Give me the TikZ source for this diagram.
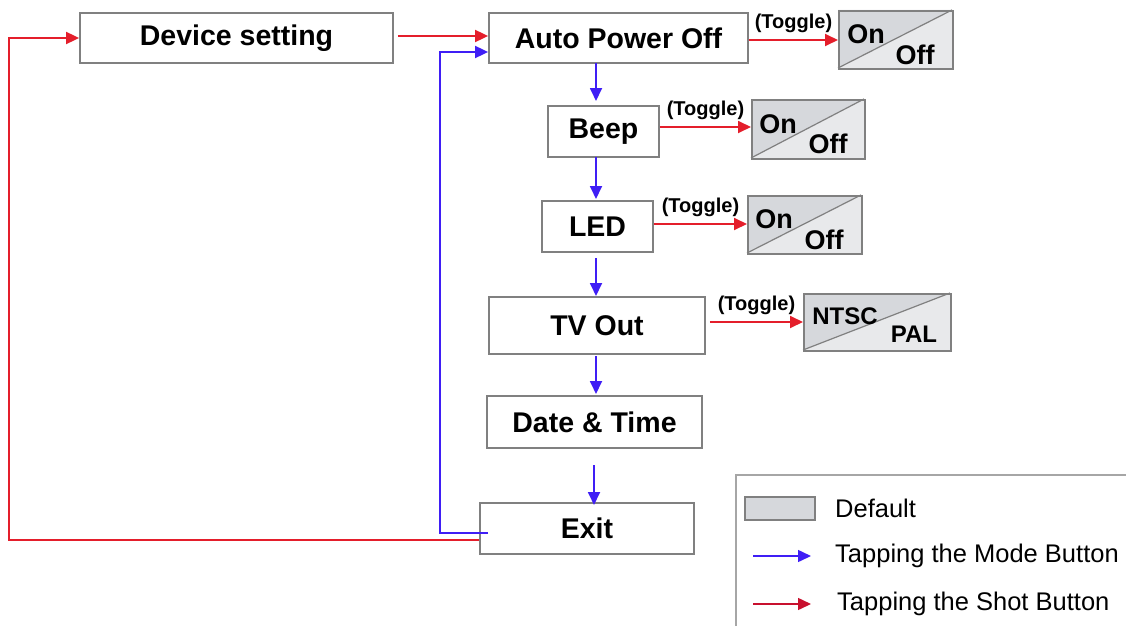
\documentclass[tikz,border=0pt]{standalone}
\usepackage{fontspec}
\setmainfont{Liberation Sans}
\usetikzlibrary{arrows.meta}
\definecolor{boxgray}{HTML}{808080}
\definecolor{defgray}{HTML}{D6D8DC}
\definecolor{lightgray2}{HTML}{E8E9EB}
\definecolor{arrred}{HTML}{E41E2B}
\definecolor{arrblue}{HTML}{3F1EF5}
\definecolor{legred}{HTML}{C8102E}
\tikzset{
  menubox/.style={draw=boxgray, line width=1.8pt, fill=white, inner sep=0pt, font=\fontsize{28.5}{32}\selectfont\bfseries},
  togbox/.style={draw=boxgray, line width=1.8pt, inner sep=0pt},
  redarr/.style={draw=arrred, line width=1.8pt, -{Triangle[length=13pt,width=12pt]}},
  bluearr/.style={draw=arrblue, line width=1.8pt, -{Triangle[length=13pt,width=12pt]}},
  toglabel/.style={font=\fontsize{20}{23}\selectfont\bfseries, inner sep=0pt},
  togtext/.style={font=\fontsize{27}{30}\selectfont\bfseries, inner sep=0pt},
  legtext/.style={font=\fontsize{25.5}{29}\selectfont, anchor=west, inner sep=0pt}
}
\newcommand{\togglebox}[5]{% name, x1, y1, x2, y2
  \fill[defgray] (#2,#3) -- (#4,#3) -- (#2,#5) -- cycle;
  \fill[lightgray2] (#4,#3) -- (#4,#5) -- (#2,#5) -- cycle;
  \draw[boxgray, line width=1.2pt] (#2,#5) -- (#4,#3);
  \node[togbox, minimum width={#4-#2}, minimum height={#5-#3}, anchor=north west] (#1) at (#2,#3) {};
}
\begin{document}
\begin{tikzpicture}[x=1pt,y=-1pt]
\useasboundingbox (0,0) rectangle (1126,626);

% main boxes
\node[menubox, minimum width=313, minimum height=50] (dev) at (236.5,38) {Device setting};
\node[menubox, minimum width=259, minimum height=50] (apo) at (618.5,38) {Auto Power Off};
\node[menubox, minimum width=111, minimum height=51] (beep) at (603.5,131.5) {Beep};
\node[menubox, minimum width=111, minimum height=51] (led) at (597.5,226.5) {LED};
\node[menubox, minimum width=216, minimum height=57] (tv) at (597,325.5) {TV Out};
\node[menubox, minimum width=215, minimum height=52] (dt) at (594.5,422) {Date \& Time};
\node[menubox, minimum width=214, minimum height=51] (exit) at (587,528.5) {Exit};

% toggle boxes
\togglebox{t1}{838}{10}{952}{68}
\node[togtext] (t1on) at (866,34) {On};
\node[togtext] (t1off) at (915,55) {Off};
\togglebox{t2}{751}{99}{864}{158}
\node[togtext] (t2on) at (778,124) {On};
\node[togtext] (t2off) at (828,144) {Off};
\togglebox{t3}{747}{195}{861}{253}
\node[togtext] (t3on) at (774,219) {On};
\node[togtext] (t3off) at (824,240) {Off};
\togglebox{t4}{803}{293}{950}{350}
\node[togtext, font=\fontsize{24}{28}\selectfont\bfseries] (t4a) at (845,316) {NTSC};
\node[togtext, font=\fontsize{24}{28}\selectfont\bfseries] (t4b) at (914,334) {PAL};

% red arrows
\draw[redarr] (dev.east |- 0,36) ++(4,0) -- (apo.west |- 0,36);
\draw[redarr] (apo.east |- 0,40) -- (t1.west |- 0,40) node[toglabel, midway, above=6pt] (lab1) {(Toggle)};
\draw[redarr] (beep.east |- 0,127) -- (t2.west |- 0,127) node[toglabel, midway, above=6pt] (lab2) {(Toggle)};
\draw[redarr] (led.east |- 0,224) -- (t3.west |- 0,224) node[toglabel, midway, above=6pt] (lab3) {(Toggle)};
\draw[redarr] ([xshift=4pt]tv.east |- 0,322) -- (t4.west |- 0,322) node[toglabel, midway, above=6pt] (lab4) {(Toggle)};

% blue arrows
\draw[bluearr] (596,63) -- (596,101);
\draw[bluearr] (596,157) -- (596,199);
\draw[bluearr] (596,258) -- (596,296);
\draw[bluearr] (596,356) -- (596,394);
\draw[bluearr] (594,465) -- (594,505);

% loops
\coordinate (bl1) at (488,533);
\coordinate (bl2) at (440,533);
\coordinate (bl3) at (440,52);
\draw[bluearr] (bl1) -- (bl2) -- (bl3) -- (apo.west |- bl3);
\coordinate (rl1) at (9,540);
\coordinate (rl2) at (9,38);
\draw[redarr] (exit.west |- rl1) -- (rl1) -- (rl2) -- (dev.west |- rl2);

% legend
\draw[boxgray!70, line width=1.2pt] (736,626) -- (736,475) -- (1126,475);
\node[draw=boxgray, line width=1.8pt, fill=defgray, minimum width=70, minimum height=23, inner sep=0pt] (legbox) at (780,508.5) {};
\node[legtext] (legdef) at (835,508) {Default};
\coordinate (lb1) at (753,556);
\coordinate (lb2) at (811,556);
\draw[bluearr, line width=1.5pt] (lb1) -- (lb2);
\node[legtext] (legmode) at (835,556) {Tapping the Mode Button};
\coordinate (lr1) at (753,604);
\coordinate (lr2) at (811,604);
\draw[redarr, draw=legred, line width=1.5pt] (lr1) -- (lr2);
\node[legtext] (legshot) at (837,604) {Tapping the Shot Button};
\end{tikzpicture}
\end{document}
